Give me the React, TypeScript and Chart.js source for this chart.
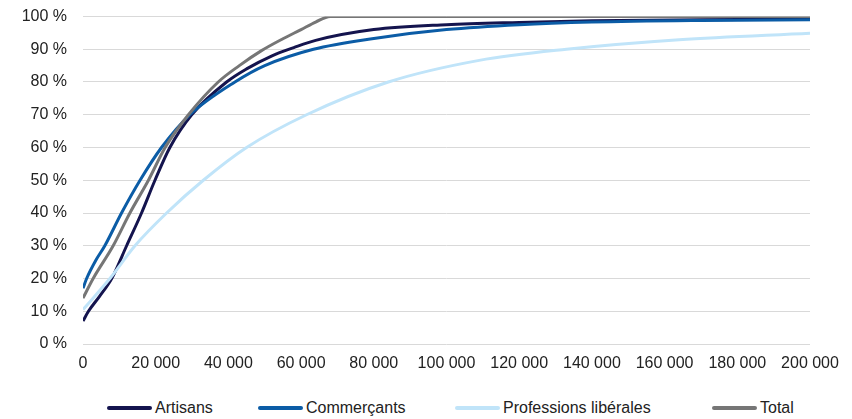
import React, { useEffect, useRef } from "react";
import { Chart, registerables } from "chart.js";

Chart.register(...registerables);

// Revenue thresholds (x) and cumulative share (%) per series
const artisansX = [0, 1500, 4500, 7900, 12000, 16100, 19800, 23900, 29900, 39500, 45000, 52000, 58000, 64000, 80000, 100000, 120000, 140000, 170000, 200000];
const artisansY = [7, 10, 14.5, 20, 30, 40, 50, 60, 70, 80, 84, 88, 90.5, 92.7, 96, 97.5, 98.2, 98.7, 99, 99.2];

const commercantsX = [0, 1000, 3500, 6000, 10600, 15700, 21600, 29400, 41800, 50000, 63400, 80000, 100000, 120000, 140000, 170000, 200000];
const commercantsY = [17, 20, 25.5, 30, 40, 50, 60, 70, 80, 85, 90, 93.3, 96, 97.5, 98.3, 98.8, 99];

const liberalesX = [0, 7400, 14300, 23000, 33100, 45000, 61500, 84000, 109000, 133000, 164000, 200000];
const liberalesY = [10.5, 20, 30, 40, 50, 60, 70, 80, 86.6, 90, 92.9, 94.9];

const totalX = [0, 2800, 8300, 12900, 18000, 22600, 29000, 37200, 43000, 49000, 55000, 60000, 64000, 68000, 100000, 200000];
const totalY = [14, 20, 30, 40, 50, 60, 70, 80, 85, 89.5, 93.2, 96, 98.3, 100, 100, 100];

const seriesNames = ["Artisans", "Commerçants", "Professions libérales", "Total"];
const seriesColors = ["#14144e", "#0b5ca6", "#c0e4f9", "#767676"];

const xTickStep = 20000;
const xMax = 200000;
const yTickStep = 10;

const toPoints = (xs: number[], ys: number[]) => xs.map((x, i) => ({ x, y: ys[i] }));

const fmtThousands = (v: number) =>
  String(Math.round(v)).replace(/\B(?=(\d{3})+(?!\d))/g, " ");

const FONT = "'Liberation Sans', Arial, sans-serif";

export default function App() {
  const canvasRef = useRef<HTMLCanvasElement | null>(null);

  useEffect(() => {
    document.body.style.margin = "0";
    const canvas = canvasRef.current;
    if (!canvas) return;
    const seriesData = [
      toPoints(artisansX, artisansY),
      toPoints(commercantsX, commercantsY),
      toPoints(liberalesX, liberalesY),
      toPoints(totalX, totalY),
    ];
    const chart = new Chart(canvas, {
      type: "line",
      data: {
        datasets: seriesNames.map((name, i) => ({
          label: name,
          data: seriesData[i],
          borderColor: seriesColors[i],
          backgroundColor: seriesColors[i],
          borderWidth: 3,
          pointRadius: 0,
          fill: false,
          cubicInterpolationMode: "monotone" as const,
          order: seriesNames.length - i,
        })),
      },
      options: {
        responsive: false,
        animation: false,
        layout: { padding: { top: 16.5, right: 42, left: 0, bottom: 0 } },
        plugins: { legend: { display: false }, tooltip: { enabled: false } },
        scales: {
          x: {
            type: "linear",
            min: 0,
            max: xMax,
            grid: { display: false, drawTicks: false },
            border: { display: false },
            ticks: {
              stepSize: xTickStep,
              padding: 10,
              maxRotation: 0,
              autoSkip: false,
              color: "#222",
              font: { family: FONT, size: 16 },
              callback: (v: any) => fmtThousands(Number(v)),
            },
            afterFit: (scale: any) => {
              scale.height = 36;
            },
          },
          y: {
            min: 0,
            max: 100,
            grid: { color: "#d9d9d9", lineWidth: 1, drawTicks: false },
            border: { display: false },
            ticks: {
              stepSize: yTickStep,
              padding: 16,
              color: "#222",
              font: { family: FONT, size: 16 },
              callback: (v: any) => `${v} %`,
            },
            afterFit: (scale: any) => {
              scale.width = 83;
              scale.paddingTop = 0;
              scale.paddingBottom = 0;
            },
          },
        },
      },
    });
    return () => chart.destroy();
  }, []);

  const legendLineLeft = [107, 258, 455, 712];

  return (
    <div style={{ position: "relative", width: 852, height: 419, background: "#fff", fontFamily: FONT }}>
      <canvas ref={canvasRef} width={852} height={380} style={{ position: "absolute", left: 0, top: 0 }} />
      {seriesNames.map((name, i) => (
        <div
          key={name}
          style={{
            position: "absolute",
            left: legendLineLeft[i],
            top: 398,
            height: 20,
            display: "flex",
            alignItems: "center",
            whiteSpace: "nowrap",
          }}
        >
          <span
            style={{
              display: "inline-block",
              width: 45,
              height: 4,
              borderRadius: 2,
              background: seriesColors[i],
              marginRight: 3,
            }}
          />
          <span style={{ fontSize: 16, color: "#222", lineHeight: "20px" }}>{name}</span>
        </div>
      ))}
    </div>
  );
}
